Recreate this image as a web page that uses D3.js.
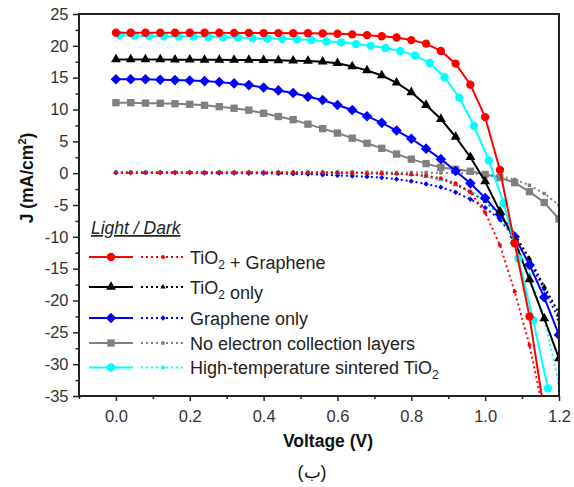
<!DOCTYPE html>
<html><head><meta charset="utf-8">
<script src="https://cdn.jsdelivr.net/npm/d3@7/dist/d3.min.js"></script>
<style>body{margin:0;background:#fff}svg{display:block}</style>
</head><body>
<svg id="chart" width="574" height="487"></svg>
<script>
// ---------- data ----------
const voltage = [0,0.04,0.08,0.12,0.16,0.2,0.24,0.28,0.32,0.36,0.4,0.44,0.48,0.52,0.56,0.6,0.64,0.68,0.72,0.76,0.8,0.84,0.88,0.92,0.96,1.0,1.04,1.08,1.12,1.16,1.2];
const voltageCyan = [0.01,0.05,0.09,0.13,0.17,0.21,0.25,0.29,0.33,0.37,0.41,0.45,0.49,0.53,0.57,0.61,0.65,0.69,0.73,0.77,0.81,0.85,0.89,0.93,0.97,1.01,1.05,1.09,1.13,1.17];

const seriesNames = ["TiO2 + Graphene","TiO2 only","Graphene only","No electron collection layers","High-temperature sintered TiO2"];
const seriesColors = ["#ff0000","#000000","#0000ff","#808080","#00ffff"];

// Light (solid)
const lightRed   = [22.05,22.05,22.05,22.05,22.05,22.05,22.05,22.05,22.03,22.03,22.0,22.0,21.98,21.97,21.95,21.9,21.8,21.68,21.5,21.3,20.9,20.35,19.2,17.2,13.9,8.8,0.5,-11.0,-22.5,-37.5];
const lightBlack = [17.85,17.85,17.85,17.85,17.83,17.83,17.8,17.8,17.78,17.78,17.75,17.72,17.67,17.62,17.5,17.26,16.75,16.15,15.35,14.2,12.7,10.7,8.5,5.7,2.5,-1.3,-6.0,-10.6,-16.7,-22.8,-29.1];
const lightBlue  = [14.74,14.74,14.74,14.68,14.62,14.55,14.46,14.3,14.1,13.83,13.45,13.0,12.6,12.0,11.5,10.7,9.93,8.95,7.9,6.7,5.4,3.85,2.2,0.35,-1.6,-3.9,-6.5,-10.0,-14.4,-19.5,-25.4];
const lightGray  = [11.07,11.07,11.0,10.98,10.9,10.82,10.66,10.45,10.2,9.9,9.4,8.9,8.4,7.7,7.0,6.3,5.5,4.7,3.9,3.0,2.2,1.5,0.9,0.6,0.3,-0.2,-0.7,-1.5,-2.9,-4.6,-7.2];
const lightCyan  = [21.7,21.6,21.55,21.5,21.45,21.45,21.4,21.35,21.3,21.2,21.15,21.1,21.03,20.9,20.68,20.55,20.27,20.0,19.66,19.2,18.5,17.3,15.06,11.84,7.41,2.0,-4.7,-13.4,-23.1,-33.8];

// Dark (dotted)
const darkRed   = [0.1,0.1,0.1,0.1,0.1,0.1,0.1,0.1,0.1,0.1,0.1,0.1,0.1,0.1,0.1,0.1,0.05,0.0,-0.05,-0.1,-0.2,-0.4,-0.8,-1.6,-3.0,-6.2,-11.3,-18.6,-27.0,-38.0];
const darkBlack = [0.1,0.1,0.1,0.1,0.1,0.1,0.1,0.1,0.1,0.1,0.1,0.1,0.1,0.1,0.1,0.1,0.05,0.0,0.0,-0.05,-0.2,-0.5,-1.0,-1.8,-2.9,-4.4,-6.5,-9.6,-13.4,-17.8,-22.0];
const darkBlue  = [0.05,0.05,0.05,0.05,0.05,0.05,0.0,0.0,0.0,-0.02,-0.03,-0.05,-0.1,-0.15,-0.25,-0.35,-0.45,-0.55,-0.7,-0.95,-1.25,-1.7,-2.2,-3.0,-4.1,-5.4,-7.3,-10.2,-14.0,-18.2,-23.0];
const darkGray  = [0.15,0.15,0.15,0.15,0.15,0.15,0.15,0.15,0.15,0.15,0.15,0.15,0.15,0.15,0.15,0.15,0.15,0.15,0.15,0.1,0.1,0.1,0.05,0.0,0.0,-0.2,-0.5,-1.0,-1.9,-3.2,-5.0];
const darkCyan  = [0.15,0.15,0.15,0.15,0.15,0.15,0.15,0.15,0.15,0.15,0.15,0.15,0.15,0.15,0.15,0.12,0.1,0.05,0.0,0.0,-0.2,-0.5,-1.0,-1.7,-2.8,-4.2,-6.5,-10.5,-16.0,-23.0,-33.0];

const xMajorTicks = [0,0.2,0.4,0.6,0.8,1.0,1.2];
const xMinorTicks = [-0.1,0.1,0.3,0.5,0.7,0.9,1.1];
const yMajorTicks = [-35,-30,-25,-20,-15,-10,-5,0,5,10,15,20,25];
const yMinorTicks = [-32.5,-27.5,-22.5,-17.5,-12.5,-7.5,-2.5,2.5,7.5,12.5,17.5,22.5];

// ---------- chart ----------
const svg = d3.select("#chart");
const FONT = "'Liberation Sans', Arial, sans-serif";
const L = 79, R = 559, T = 14, B = 396;
const x = d3.scaleLinear().domain([-0.1, 1.2]).range([L, R]);
const y = d3.scaleLinear().domain([-35, 25]).range([B, T]);

svg.append("defs").append("clipPath").attr("id","clip")
  .append("rect").attr("x",L).attr("y",T).attr("width",R-L).attr("height",B-T);

// axes
function styleAxis(g){ g.select(".domain").remove(); g.selectAll("line").attr("stroke","#222").attr("stroke-width",1.5);
  g.selectAll("text").attr("font-family",FONT).attr("font-size",16.5).attr("fill","#333"); }
svg.append("g").attr("transform",`translate(0,${B})`)
  .call(d3.axisBottom(x).tickValues(xMajorTicks).tickSize(5).tickPadding(9).tickFormat(d=>d.toFixed(1))).call(styleAxis);
svg.append("g").attr("transform",`translate(0,${B})`)
  .call(d3.axisBottom(x).tickValues(xMinorTicks).tickSize(3).tickFormat("")).call(styleAxis);
svg.append("g").attr("transform",`translate(${L},0)`)
  .call(d3.axisLeft(y).tickValues(yMajorTicks).tickSize(6).tickPadding(4.5).tickFormat(d=>String(d))).call(styleAxis);
svg.append("g").attr("transform",`translate(${L},0)`)
  .call(d3.axisLeft(y).tickValues(yMinorTicks).tickSize(3.5).tickFormat("")).call(styleAxis);

// square diamond symbol (equal width & height)
const symbolRhomb = { draw(ctx, size){ const r = Math.sqrt(size/2); ctx.moveTo(0,-r); ctx.lineTo(r,0); ctx.lineTo(0,r); ctx.lineTo(-r,0); ctx.closePath(); } };
const symbols = [d3.symbolCircle, d3.symbolTriangle, symbolRhomb, d3.symbolSquare, d3.symbolCircle];
const bigSize = [55, 42, 56, 54, 55];
const smallSize = [13, 12, 14, 12, 13];

const lightData = [lightRed, lightBlack, lightBlue, lightGray, lightCyan];
const darkData  = [darkRed, darkBlack, darkBlue, darkGray, darkCyan];
const lightV = [voltage, voltage, voltage, voltage, voltageCyan];

const plot = svg.append("g").attr("clip-path","url(#clip)");
const line = d3.line().x(d=>x(d[0])).y(d=>y(d[1]));

function drawSeries(vals, vs, i, dark){
  const pts = vals.map((v,k)=>[vs[k], v]);
  const g = plot.append("g");
  g.append("path").attr("d", line(pts)).attr("fill","none")
    .attr("stroke", seriesColors[i]).attr("stroke-width", 2)
    .attr("stroke-dasharray", dark ? "2,3" : null);
  g.selectAll("path.m").data(pts).join("path").attr("class","m")
    .attr("transform", d=>`translate(${x(d[0])},${y(d[1])})`)
    .attr("d", d3.symbol().type(symbols[i]).size(dark ? smallSize[i] : bigSize[i]))
    .attr("fill", seriesColors[i]);
}
[3,2,1,4,0].forEach(i=>drawSeries(darkData[i], voltage, i, true));
[3,2,1,4,0].forEach(i=>drawSeries(lightData[i], lightV[i], i, false));

// frame
svg.append("rect").attr("x",L).attr("y",T).attr("width",R-L).attr("height",B-T)
  .attr("fill","none").attr("stroke","#222").attr("stroke-width",2);

// legend
svg.append("text").attr("x",91).attr("y",234).attr("font-family",FONT).attr("font-size",17.5)
  .attr("font-style","italic").attr("text-decoration","underline").attr("fill","#222").text("Light / Dark");
const rowsY = [257, 287, 318, 343, 367.5];
seriesNames.forEach((name,i)=>{
  const g = svg.append("g").attr("transform",`translate(0,${rowsY[i]})`);
  g.append("line").attr("x1",89).attr("x2",133).attr("stroke",seriesColors[i]).attr("stroke-width",2);
  g.append("path").attr("transform","translate(111,0)").attr("d",d3.symbol().type(symbols[i]).size(bigSize[i])).attr("fill",seriesColors[i]);
  g.append("line").attr("x1",141).attr("x2",184).attr("stroke",seriesColors[i]).attr("stroke-width",2).attr("stroke-dasharray","2,3");
  g.append("path").attr("transform","translate(163,0)").attr("d",d3.symbol().type(symbols[i]).size(smallSize[i])).attr("fill",seriesColors[i]);
  const t = g.append("text").attr("x",190).attr("y",6.5).attr("font-family",FONT).attr("font-size",18).attr("fill","#222");
  const parts = name.split("TiO2");
  parts.forEach((p,k)=>{
    if(k>0){ t.append("tspan").text("TiO"); t.append("tspan").attr("font-size",12).attr("dy",5).text("2"); t.append("tspan").attr("dy",-5).text(""); }
    if(p) t.append("tspan").text(p);
  });
});

// axis titles
svg.append("text").attr("x",328).attr("y",446.5).attr("text-anchor","middle")
  .attr("font-family",FONT).attr("font-size",17.5).attr("font-weight","bold").attr("fill","#111").text("Voltage (V)");
const yt = svg.append("text").attr("transform","translate(33,178) rotate(-90)").attr("text-anchor","middle")
  .attr("font-family",FONT).attr("font-size",17.5).attr("font-weight","bold").attr("fill","#111");
yt.append("tspan").text("J (mA/cm");
yt.append("tspan").attr("font-size",11).attr("dy",-7).text("2");
yt.append("tspan").attr("dy",7).text(")");

// caption
svg.append("text").attr("x",312).attr("y",478).attr("text-anchor","middle")
  .attr("font-family",FONT).attr("font-size",18).attr("fill","#111").text("(ب)");
</script>
</body></html>
